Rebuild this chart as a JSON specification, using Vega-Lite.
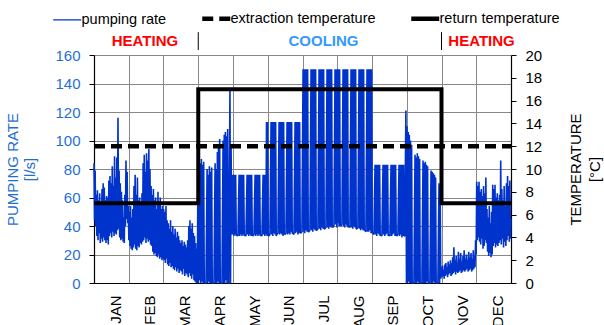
{
"$schema": "https://vega.github.io/schema/vega-lite/v6.json",
"width": 417, "height": 228,
"autosize": "none",
"padding": {"left": 94, "top": 55, "right": 93, "bottom": 42},
"background": "white",
"config": {
 "font": "Liberation Sans",
 "view": {"stroke": null},
 "axis": {"labelFont": "Liberation Sans", "titleFont": "Liberation Sans", "labelFontSize": 15, "titleFontSize": 15, "titleFontWeight": "normal", "gridColor": "#888888", "gridWidth": 1, "gridOpacity": 1, "domainColor": "#000000", "tickColor": "#000000", "domainWidth": 1.2}
},
"datasets": {
 "pump": [
{"d":0,"q":84},{"d":0.5,"q":44},{"d":1,"q":79},{"d":1.5,"q":40},{"d":2,"q":62},{"d":2.5,"q":33},{"d":3,"q":65},{"d":3.5,"q":30},{"d":4,"q":58},{"d":4.5,"q":35},{"d":5,"q":63},{"d":5.5,"q":28},{"d":6,"q":55},{"d":6.5,"q":31},{"d":7,"q":66},{"d":7.5,"q":29},{"d":8,"q":70},{"d":8.5,"q":32},{"d":9,"q":67},{"d":9.5,"q":30},{"d":10,"q":58},{"d":10.5,"q":28},{"d":11,"q":61},{"d":11.5,"q":30},{"d":12,"q":60},{"d":12.5,"q":27},{"d":13,"q":72},{"d":13.5,"q":33},{"d":14,"q":75},{"d":14.5,"q":35},{"d":15,"q":70},{"d":15.5,"q":32},{"d":16,"q":82},{"d":16.5,"q":36},{"d":17,"q":68},{"d":17.5,"q":33},{"d":18,"q":89},{"d":18.5,"q":35},{"d":19,"q":74},{"d":19.5,"q":34},{"d":20,"q":88},{"d":20.5,"q":37},{"d":21,"q":116},{"d":21.5,"q":38},{"d":22,"q":79},{"d":22.5,"q":32},{"d":23,"q":70},{"d":23.5,"q":30},{"d":24,"q":64},{"d":24.5,"q":31},{"d":25,"q":58},{"d":25.5,"q":29},{"d":26,"q":46},{"d":26.5,"q":28},{"d":27,"q":62},{"d":27.5,"q":40},{"d":28,"q":86},{"d":28.5,"q":45},{"d":29,"q":78},{"d":29.5,"q":42},{"d":30,"q":54},{"d":30.5,"q":30},
{"d":31,"q":50},{"d":31.5,"q":26},{"d":32,"q":54},{"d":32.5,"q":24},{"d":33,"q":46},{"d":33.5,"q":23},{"d":34,"q":52},{"d":34.5,"q":25},{"d":35,"q":68},{"d":35.5,"q":27},{"d":36,"q":76},{"d":36.5,"q":24},{"d":37,"q":62},{"d":37.5,"q":23},{"d":38,"q":74},{"d":38.5,"q":26},{"d":39,"q":58},{"d":39.5,"q":25},{"d":40,"q":60},{"d":40.5,"q":28},{"d":41,"q":56},{"d":41.5,"q":27},{"d":42,"q":63},{"d":42.5,"q":29},{"d":43,"q":84},{"d":43.5,"q":30},{"d":44,"q":90},{"d":44.5,"q":32},{"d":45,"q":78},{"d":45.5,"q":28},{"d":46,"q":91},{"d":46.5,"q":31},{"d":47,"q":86},{"d":47.5,"q":29},{"d":48,"q":94},{"d":48.5,"q":30},{"d":49,"q":80},{"d":49.5,"q":27},{"d":50,"q":68},{"d":50.5,"q":26},{"d":51,"q":62},{"d":51.5,"q":22},{"d":52,"q":66},{"d":52.5,"q":20},{"d":53,"q":58},{"d":53.5,"q":21},{"d":54,"q":60},{"d":54.5,"q":19},{"d":55,"q":52},{"d":55.5,"q":18},{"d":56,"q":64},{"d":56.5,"q":20},{"d":57,"q":55},{"d":57.5,"q":17},{"d":58,"q":60},{"d":58.5,"q":18},{"d":59,"q":52},{"d":59.5,"q":16},{"d":60,"q":54},{"d":60.5,"q":17},
{"d":61,"q":52},{"d":61.5,"q":16},{"d":62,"q":50},{"d":62.5,"q":14},{"d":63,"q":54},{"d":63.5,"q":17},{"d":64,"q":44},{"d":64.5,"q":13},{"d":65,"q":42},{"d":65.5,"q":12},{"d":66,"q":38},{"d":66.5,"q":14},{"d":67,"q":44},{"d":67.5,"q":11},{"d":68,"q":36},{"d":68.5,"q":12},{"d":69,"q":40},{"d":69.5,"q":10},{"d":70,"q":34},{"d":70.5,"q":9},{"d":71,"q":38},{"d":71.5,"q":11},{"d":72,"q":32},{"d":72.5,"q":8},{"d":73,"q":36},{"d":73.5,"q":10},{"d":74,"q":33},{"d":74.5,"q":7},{"d":75,"q":30},{"d":75.5,"q":9},{"d":76,"q":28},{"d":76.5,"q":8},{"d":77,"q":30},{"d":77.5,"q":6},{"d":78,"q":26},{"d":78.5,"q":10},{"d":79,"q":29},{"d":79.5,"q":5},{"d":80,"q":27},{"d":80.5,"q":7},{"d":81,"q":25},{"d":81.5,"q":6},{"d":82,"q":30},{"d":82.5,"q":4},{"d":83,"q":40},{"d":83.5,"q":7},{"d":84,"q":44},{"d":84.5,"q":5},{"d":85,"q":38},{"d":85.5,"q":3},{"d":86,"q":42},{"d":86.5,"q":6},{"d":87,"q":35},{"d":87.5,"q":2},{"d":88,"q":33},{"d":88.5,"q":1},{"d":89,"q":28},{"d":89.5,"q":0},{"d":90,"q":24},{"d":90.5,"q":0},
{"d":91,"q":86},{"d":91.5,"q":0},{"d":92,"q":88},{"d":92.5,"q":2},{"d":93,"q":84},{"d":93.5,"q":0},{"d":94,"q":87},{"d":94.5,"q":1},{"d":95,"q":83},{"d":95.5,"q":0},{"d":96,"q":85},{"d":96.5,"q":0},{"d":97,"q":0},{"d":98,"q":0},{"d":99,"q":80},{"d":99.5,"q":0},{"d":100,"q":76},{"d":100.5,"q":1},{"d":101,"q":82},{"d":101.5,"q":0},{"d":102,"q":78},{"d":102.5,"q":0},{"d":103,"q":81},{"d":103.5,"q":0},{"d":104,"q":0},{"d":105,"q":0},{"d":106,"q":84},{"d":106.5,"q":0},{"d":107,"q":80},{"d":107.5,"q":0},{"d":108,"q":92},{"d":108.5,"q":1},{"d":109,"q":97},{"d":109.5,"q":0},{"d":110,"q":101},{"d":110.5,"q":0},{"d":111,"q":0},{"d":112,"q":0},{"d":113,"q":100},{"d":113.5,"q":0},{"d":114,"q":104},{"d":114.5,"q":0},{"d":115,"q":106},{"d":115.5,"q":2},{"d":116,"q":103},{"d":116.5,"q":0},{"d":117,"q":108},{"d":117.5,"q":0},{"d":118,"q":0},{"d":119,"q":135},{"d":119.5,"q":0},{"d":120,"q":96},{"d":120.5,"q":34},
{"d":121,"q":76},{"d":121.5,"q":34},{"d":122,"q":76},{"d":122.5,"q":33},{"d":123,"q":76},{"d":123.5,"q":34},{"d":124,"q":76},{"d":124.5,"q":33},{"d":125,"q":34},{"d":126,"q":33},{"d":127,"q":76},{"d":127.5,"q":33},{"d":128,"q":76},{"d":128.5,"q":34},{"d":129,"q":76},{"d":129.5,"q":33},{"d":130,"q":76},{"d":130.5,"q":34},{"d":131,"q":76},{"d":131.5,"q":33},{"d":132,"q":34},{"d":133,"q":33},{"d":134,"q":76},{"d":134.5,"q":34},{"d":135,"q":76},{"d":135.5,"q":33},{"d":136,"q":76},{"d":136.5,"q":34},{"d":137,"q":76},{"d":137.5,"q":33},{"d":138,"q":76},{"d":138.5,"q":34},{"d":139,"q":33},{"d":140,"q":34},{"d":141,"q":76},{"d":141.5,"q":33},{"d":142,"q":76},{"d":142.5,"q":34},{"d":143,"q":76},{"d":143.5,"q":33},{"d":144,"q":76},{"d":144.5,"q":34},{"d":145,"q":76},{"d":145.5,"q":33},{"d":146,"q":34},{"d":147,"q":33},{"d":148,"q":76},{"d":148.5,"q":34},{"d":149,"q":76},{"d":149.5,"q":33},{"d":150,"q":76},{"d":150.5,"q":34},{"d":151,"q":113},{"d":151.5,"q":33},{"d":152,"q":113},{"d":152.5,"q":34},{"d":153,"q":33},{"d":154,"q":34},
{"d":155,"q":113},{"d":155.5,"q":34},{"d":156,"q":113},{"d":156.5,"q":33},{"d":157,"q":113},{"d":157.5,"q":35},{"d":158,"q":113},{"d":158.5,"q":34},{"d":159,"q":113},{"d":159.5,"q":33},{"d":160,"q":34},{"d":161,"q":35},{"d":162,"q":113},{"d":162.5,"q":34},{"d":163,"q":113},{"d":163.5,"q":35},{"d":164,"q":113},{"d":164.5,"q":34},{"d":165,"q":113},{"d":165.5,"q":33},{"d":166,"q":113},{"d":166.5,"q":35},{"d":167,"q":34},{"d":168,"q":35},{"d":169,"q":113},{"d":169.5,"q":34},{"d":170,"q":113},{"d":170.5,"q":35},{"d":171,"q":113},{"d":171.5,"q":34},{"d":172,"q":113},{"d":172.5,"q":36},{"d":173,"q":113},{"d":173.5,"q":35},{"d":174,"q":35},{"d":175,"q":34},{"d":176,"q":113},{"d":176.5,"q":35},{"d":177,"q":113},{"d":177.5,"q":36},{"d":178,"q":113},{"d":178.5,"q":34},{"d":179,"q":113},{"d":179.5,"q":35},{"d":180,"q":113},{"d":180.5,"q":36},{"d":181,"q":35},{"d":182,"q":36},
{"d":183,"q":150},{"d":183.5,"q":36},{"d":184,"q":150},{"d":184.5,"q":35},{"d":185,"q":150},{"d":185.5,"q":37},{"d":186,"q":150},{"d":186.5,"q":36},{"d":187,"q":150},{"d":187.5,"q":36},{"d":188,"q":36},{"d":189,"q":37},{"d":190,"q":150},{"d":190.5,"q":37},{"d":191,"q":150},{"d":191.5,"q":36},{"d":192,"q":150},{"d":192.5,"q":38},{"d":193,"q":150},{"d":193.5,"q":37},{"d":194,"q":150},{"d":194.5,"q":37},{"d":195,"q":37},{"d":196,"q":38},{"d":197,"q":150},{"d":197.5,"q":38},{"d":198,"q":150},{"d":198.5,"q":37},{"d":199,"q":150},{"d":199.5,"q":39},{"d":200,"q":150},{"d":200.5,"q":38},{"d":201,"q":150},{"d":201.5,"q":38},{"d":202,"q":38},{"d":203,"q":39},{"d":204,"q":150},{"d":204.5,"q":39},{"d":205,"q":150},{"d":205.5,"q":38},{"d":206,"q":150},{"d":206.5,"q":40},{"d":207,"q":150},{"d":207.5,"q":39},{"d":208,"q":150},{"d":208.5,"q":40},{"d":209,"q":39},{"d":210,"q":40},{"d":211,"q":150},{"d":211.5,"q":41},{"d":212,"q":150},{"d":212.5,"q":39},{"d":213,"q":150},{"d":213.5,"q":42},{"d":214,"q":150},{"d":214.5,"q":40},{"d":215,"q":150},{"d":215.5,"q":41},{"d":216,"q":40},{"d":217,"q":41},{"d":218,"q":150},{"d":218.5,"q":40},{"d":219,"q":150},{"d":219.5,"q":39},{"d":220,"q":150},{"d":220.5,"q":41},{"d":221,"q":150},{"d":221.5,"q":40},{"d":222,"q":150},{"d":222.5,"q":39},{"d":223,"q":40},{"d":224,"q":39},{"d":225,"q":150},{"d":225.5,"q":39},{"d":226,"q":150},{"d":226.5,"q":38},{"d":227,"q":150},{"d":227.5,"q":40},{"d":228,"q":150},{"d":228.5,"q":39},{"d":229,"q":150},{"d":229.5,"q":38},{"d":230,"q":38},{"d":231,"q":39},{"d":232,"q":150},{"d":232.5,"q":38},{"d":233,"q":150},{"d":233.5,"q":37},{"d":234,"q":150},{"d":234.5,"q":38},{"d":235,"q":150},{"d":235.5,"q":37},{"d":236,"q":150},{"d":236.5,"q":37},{"d":237,"q":37},{"d":238,"q":36},{"d":239,"q":150},{"d":239.5,"q":36},{"d":240,"q":150},{"d":240.5,"q":36},{"d":241,"q":150},{"d":241.5,"q":37},{"d":242,"q":150},{"d":242.5,"q":35},{"d":243,"q":150},{"d":243.5,"q":36},{"d":244,"q":35},{"d":245,"q":34},
{"d":246,"q":83},{"d":246.5,"q":34},{"d":247,"q":83},{"d":247.5,"q":33},{"d":248,"q":83},{"d":248.5,"q":35},{"d":249,"q":83},{"d":249.5,"q":34},{"d":250,"q":83},{"d":250.5,"q":33},{"d":251,"q":34},{"d":252,"q":33},{"d":253,"q":83},{"d":253.5,"q":34},{"d":254,"q":83},{"d":254.5,"q":33},{"d":255,"q":83},{"d":255.5,"q":34},{"d":256,"q":83},{"d":256.5,"q":35},{"d":257,"q":83},{"d":257.5,"q":33},{"d":258,"q":34},{"d":259,"q":33},{"d":260,"q":83},{"d":260.5,"q":33},{"d":261,"q":83},{"d":261.5,"q":34},{"d":262,"q":83},{"d":262.5,"q":35},{"d":263,"q":83},{"d":263.5,"q":33},{"d":264,"q":83},{"d":264.5,"q":34},{"d":265,"q":33},{"d":266,"q":34},{"d":267,"q":83},{"d":267.5,"q":33},{"d":268,"q":83},{"d":268.5,"q":34},{"d":269,"q":83},{"d":269.5,"q":32},{"d":270,"q":83},{"d":270.5,"q":33},{"d":271,"q":83},{"d":271.5,"q":33},{"d":272,"q":33},
{"d":273,"q":121},{"d":273.5,"q":0},{"d":274,"q":110},{"d":274.5,"q":0},{"d":275,"q":106},{"d":275.5,"q":1},{"d":276,"q":104},{"d":276.5,"q":0},{"d":277,"q":100},{"d":277.5,"q":0},{"d":278,"q":97},{"d":278.5,"q":0},{"d":279,"q":0},{"d":280,"q":0},{"d":281,"q":90},{"d":281.5,"q":0},{"d":282,"q":88},{"d":282.5,"q":0},{"d":283,"q":91},{"d":283.5,"q":1},{"d":284,"q":89},{"d":284.5,"q":0},{"d":285,"q":87},{"d":285.5,"q":0},{"d":286,"q":0},{"d":287,"q":0},{"d":288,"q":86},{"d":288.5,"q":0},{"d":289,"q":84},{"d":289.5,"q":0},{"d":290,"q":85},{"d":290.5,"q":0},{"d":291,"q":83},{"d":291.5,"q":1},{"d":292,"q":82},{"d":292.5,"q":0},{"d":293,"q":0},{"d":294,"q":0},{"d":295,"q":79},{"d":295.5,"q":0},{"d":296,"q":78},{"d":296.5,"q":0},{"d":297,"q":77},{"d":297.5,"q":1},{"d":298,"q":76},{"d":298.5,"q":0},{"d":299,"q":74},{"d":299.5,"q":0},{"d":300,"q":0},{"d":301,"q":0},{"d":302,"q":70},{"d":302.5,"q":0},{"d":303,"q":68},{"d":303.5,"q":3},
{"d":304,"q":10},{"d":304.5,"q":4},{"d":305,"q":12},{"d":305.5,"q":5},{"d":306,"q":9},{"d":306.5,"q":3},{"d":307,"q":13},{"d":307.5,"q":5},{"d":308,"q":14},{"d":308.5,"q":6},{"d":309,"q":11},{"d":309.5,"q":4},{"d":310,"q":15},{"d":310.5,"q":6},{"d":311,"q":13},{"d":311.5,"q":7},{"d":312,"q":16},{"d":312.5,"q":5},{"d":313,"q":14},{"d":313.5,"q":6},{"d":314,"q":18},{"d":314.5,"q":7},{"d":315,"q":25},{"d":315.5,"q":8},{"d":316,"q":16},{"d":316.5,"q":6},{"d":317,"q":19},{"d":317.5,"q":8},{"d":318,"q":14},{"d":318.5,"q":7},{"d":319,"q":22},{"d":319.5,"q":8},{"d":320,"q":17},{"d":320.5,"q":9},{"d":321,"q":21},{"d":321.5,"q":7},{"d":322,"q":15},{"d":322.5,"q":8},{"d":323,"q":19},{"d":323.5,"q":9},{"d":324,"q":23},{"d":324.5,"q":8},{"d":325,"q":17},{"d":325.5,"q":9},{"d":326,"q":20},{"d":326.5,"q":10},{"d":327,"q":16},{"d":327.5,"q":8},{"d":328,"q":22},{"d":328.5,"q":9},{"d":329,"q":18},{"d":329.5,"q":10},{"d":330,"q":21},{"d":330.5,"q":8},{"d":331,"q":17},{"d":331.5,"q":9},{"d":332,"q":23},{"d":332.5,"q":10},{"d":333,"q":19},{"d":333.5,"q":11},
{"d":334,"q":30},{"d":334.5,"q":20},{"d":335,"q":71},{"d":335.5,"q":30},{"d":336,"q":68},{"d":336.5,"q":32},{"d":337,"q":71},{"d":337.5,"q":29},{"d":338,"q":64},{"d":338.5,"q":27},{"d":339,"q":66},{"d":339.5,"q":31},{"d":340,"q":61},{"d":340.5,"q":24},{"d":341,"q":68},{"d":341.5,"q":26},{"d":342,"q":63},{"d":342.5,"q":30},{"d":343,"q":74},{"d":343.5,"q":28},{"d":344,"q":52},{"d":344.5,"q":22},{"d":345,"q":46},{"d":345.5,"q":19},{"d":346,"q":54},{"d":346.5,"q":21},{"d":347,"q":42},{"d":347.5,"q":18},{"d":348,"q":50},{"d":348.5,"q":20},{"d":349,"q":69},{"d":349.5,"q":26},{"d":350,"q":66},{"d":350.5,"q":28},{"d":351,"q":69},{"d":351.5,"q":25},{"d":352,"q":60},{"d":352.5,"q":27},{"d":353,"q":63},{"d":353.5,"q":26},{"d":354,"q":58},{"d":354.5,"q":28},{"d":355,"q":62},{"d":355.5,"q":30},{"d":356,"q":86},{"d":356.5,"q":27},{"d":357,"q":66},{"d":357.5,"q":31},{"d":358,"q":58},{"d":358.5,"q":25},{"d":359,"q":68},{"d":359.5,"q":29},{"d":360,"q":54},{"d":360.5,"q":26},{"d":361,"q":70},{"d":361.5,"q":30},{"d":362,"q":75},{"d":362.5,"q":33},{"d":363,"q":68},{"d":363.5,"q":29},{"d":364,"q":72},{"d":364.5,"q":31},{"d":365,"q":45}
 ],
 "extraction": [{"d":0,"t":12},{"d":365,"t":12}],
 "ret": [{"d":0,"t":7},{"d":91.25,"t":17},{"d":304.17,"t":7},{"d":365,"t":7}],
 "periods": [{"d":44.6,"label":"HEATING","kind":"heating"},{"d":200.9,"label":"COOLING","kind":"cooling"},{"d":339.2,"label":"HEATING","kind":"heating"}],
 "switches": [{"d":91.25},{"d":304.17}]
},
"encoding": {
 "x": {"field": "d", "type": "quantitative", "scale": {"domain": [0, 365], "nice": false, "zero": false},
   "axis": {"orient": "bottom", "values": [0,30.4167,60.8333,91.25,121.6667,152.0833,182.5,212.9167,243.3333,273.75,304.1667,334.5833], "grid": true, "ticks": true, "tickSize": 1, "tickOpacity": 0, "labels": true, "labelAngle": -90, "labelOffset": 21, "labelPadding": 11, "labelFlush": false, "labelOverlap": false, "labelColor": "#000000", "labelFontSize": 15, "labelExpr": "upper(timeFormat(datetime(2001, round(datum.value / 30.4167), 15), '%b'))", "title": null}}
},
"layer": [
 {
  "data": {"name": "pump"},
  "mark": {"type": "line", "strokeWidth": 1.6, "strokeJoin": "bevel"},
  "encoding": {
   "y": {"field": "q", "type": "quantitative", "scale": {"domain": [0, 160], "nice": false},
     "axis": {"orient": "left", "values": [0,20,40,60,80,100,120,140,160], "grid": true, "tickSize": 5, "labelPadding": 9, "labelColor": "#1f6fd1", "title": ["PUMPING RATE", "[l/s]"], "titleColor": "#1f6fd1", "titlePadding": 17, "titleLineHeight": 17}},
   "color": {"datum": "pumping rate", "type": "nominal", "scale": {"domain": ["pumping rate", "extraction temperature", "return temperature"], "range": ["#0033cc", "#000000", "#000000"]},
     "legend": {"orient": "none", "legendX": -34, "legendY": -44, "direction": "horizontal", "title": null, "symbolType": "stroke", "symbolSize": 784, "labelFontSize": 14.5, "labelFont": "Liberation Sans", "labelColor": "#000000", "labelOffset": 7, "columnPadding": 26, "padding": 0, "encode": {"symbols": {"update": {"strokeWidth": {"signal": "datum.value === 'pumping rate' ? 1.3 : 4.5"}}}}}},
   "strokeDash": {"datum": "pumping rate", "type": "nominal", "scale": {"domain": ["pumping rate", "extraction temperature", "return temperature"], "range": [[1,0],[11,6],[1,0]]},
     "legend": {"orient": "none", "legendX": -34, "legendY": -44, "direction": "horizontal", "title": null, "symbolType": "stroke", "symbolSize": 784, "labelFontSize": 14.5, "labelFont": "Liberation Sans", "labelColor": "#000000", "labelOffset": 7, "columnPadding": 26, "padding": 0, "encode": {"symbols": {"update": {"strokeWidth": {"signal": "datum.value === 'pumping rate' ? 1.3 : 4.5"}}}}}}
  }
 },
 {
  "data": {"name": "extraction"},
  "mark": {"type": "line", "strokeWidth": 4.5, "strokeCap": "butt"},
  "encoding": {
   "y": {"field": "t", "type": "quantitative", "scale": {"domain": [0, 20], "nice": false},
     "axis": {"orient": "right", "values": [0,2,4,6,8,10,12,14,16,18,20], "grid": false, "tickSize": 5, "labelPadding": 9, "labelColor": "#000000", "title": ["TEMPERATURE", "[°C]"], "titleColor": "#000000", "titleAngle": 270, "titlePadding": 23, "titleLineHeight": 19}},
   "color": {"datum": "extraction temperature", "type": "nominal", "scale": {"domain": ["pumping rate", "extraction temperature", "return temperature"], "range": ["#0033cc", "#000000", "#000000"]}},
   "strokeDash": {"datum": "extraction temperature", "type": "nominal", "scale": {"domain": ["pumping rate", "extraction temperature", "return temperature"], "range": [[1,0],[11,6],[1,0]]}}
  }
 },
 {
  "data": {"name": "ret"},
  "mark": {"type": "line", "strokeWidth": 4, "interpolate": "step-after"},
  "encoding": {
   "y": {"field": "t", "type": "quantitative", "scale": {"domain": [0, 20], "nice": false}, "axis": null},
   "color": {"datum": "return temperature", "type": "nominal", "scale": {"domain": ["pumping rate", "extraction temperature", "return temperature"], "range": ["#0033cc", "#000000", "#000000"]}},
   "strokeDash": {"datum": "return temperature", "type": "nominal", "scale": {"domain": ["pumping rate", "extraction temperature", "return temperature"], "range": [[1,0],[11,6],[1,0]]}}
  }
 },
 {
  "data": {"name": "switches"},
  "mark": {"type": "rule", "color": "#000000", "strokeWidth": 1},
  "encoding": {
   "y": {"datum": 163.5, "type": "quantitative", "scale": {"domain": [0, 160], "nice": false}, "axis": null},
   "y2": {"datum": 176}
  }
 },
 {
  "data": {"name": "periods"},
  "transform": [{"filter": "datum.kind === 'heating'"}],
  "mark": {"type": "text", "color": "#ff0000", "fontWeight": "bold", "fontSize": 15, "font": "Liberation Sans", "baseline": "middle", "align": "center"},
  "encoding": {
   "y": {"datum": 170, "type": "quantitative", "scale": {"domain": [0, 160], "nice": false}, "axis": null},
   "text": {"field": "label", "type": "nominal"}
  }
 },
 {
  "data": {"name": "periods"},
  "transform": [{"filter": "datum.kind === 'cooling'"}],
  "mark": {"type": "text", "color": "#3399ff", "fontWeight": "bold", "fontSize": 15, "font": "Liberation Sans", "baseline": "middle", "align": "center"},
  "encoding": {
   "y": {"datum": 170, "type": "quantitative", "scale": {"domain": [0, 160], "nice": false}, "axis": null},
   "text": {"field": "label", "type": "nominal"}
  }
 }
],
"resolve": {"scale": {"y": "independent"}}
}
